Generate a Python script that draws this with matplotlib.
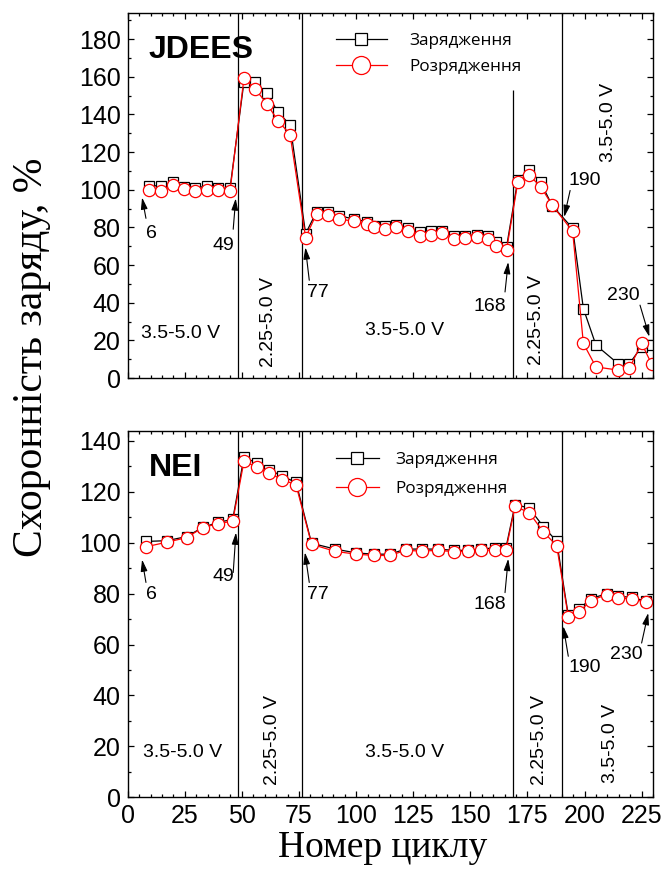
import matplotlib
matplotlib.use("Agg")
import matplotlib.pyplot as plt
from matplotlib.lines import Line2D
from matplotlib.ticker import MultipleLocator

# ---- data: JDEES (top) ----
top_cycle = [9.5, 14.7, 19.7, 24.6, 29.6, 34.6, 39.5, 44.8,
             50.9, 55.9, 60.9, 65.8, 71.1,
             77.9, 82.7, 87.7, 92.6, 99.1, 104.6, 107.8, 112.8, 117.5, 122.9,
             128.0, 132.9, 137.7, 142.9, 147.8, 152.8, 157.9, 161.2, 165.9,
             170.8, 175.8, 180.8, 185.9,
             194.8, 199.5, 205.0, 214.8, 219.6, 225.0, 229.4]
top_charge = [102.1, 102.1, 103.9, 101.7, 100.7, 102.1, 100.7, 100.7,
              157.2, 157.2, 151.2, 141.3, 134.4,
              76.7, 88.3, 88.3, 86.2, 84.4, 83.0, 80.9, 80.9, 81.2, 79.5,
              77.4, 78.3, 78.1, 75.6, 75.6, 75.9, 75.6, 72.1, 69.8,
              105.3, 110.6, 103.9, 91.5,
              79.5, 36.9, 17.5, 7.5, 7.5, 16.6, 17.5]
top_discharge = [99.6, 99.3, 102.3, 100.5, 99.3, 99.6, 99.6, 99.3,
                 159.1, 153.5, 145.6, 136.7, 129.3,
                 74.6, 87.3, 86.4, 84.3, 83.4, 81.6, 80.2, 79.3, 80.2, 78.1,
                 75.4, 76.2, 77.2, 74.0, 74.4, 74.9, 74.0, 70.1, 68.2,
                 104.0, 107.6, 101.7, 91.7,
                 77.9, 18.4, 5.9, 4.2, 5.1, 18.4, 7.4]

# ---- data: NEI (bottom) ----
bot_cycle = [8.0, 17.1, 25.8, 32.8, 39.7, 46.0,
             50.9, 56.5, 61.9, 67.7, 73.7,
             80.5, 90.8, 100.0, 107.8, 114.8, 121.7, 128.7, 135.7, 142.9,
             148.9, 154.6, 160.8, 165.6,
             169.6, 175.8, 182.0, 187.8,
             192.9, 197.7, 202.7, 209.7, 214.8, 220.9, 226.9]
bot_charge = [100.5, 100.8, 102.4, 106.0, 108.0, 109.2,
              133.6, 131.3, 128.7, 126.1, 123.7,
              99.8, 97.5, 96.0, 95.5, 95.5, 97.5, 97.5, 97.5, 97.0,
              97.0, 97.5, 98.0, 98.0,
              115.0, 113.6, 106.3, 100.6,
              71.5, 74.0, 78.0, 80.0, 79.0, 78.5, 77.0]
bot_discharge = [98.4, 100.2, 102.0, 105.9, 107.5, 108.5,
                 131.9, 129.8, 127.3, 124.8, 122.7,
                 99.4, 96.6, 95.5, 95.0, 95.0, 97.0, 96.7, 97.0, 96.5,
                 96.7, 97.0, 97.2, 97.1,
                 114.3, 111.8, 104.2, 98.9,
                 70.9, 72.8, 77.3, 79.6, 78.3, 77.9, 76.6]

boundaries = [48.4, 76.3, 168.5, 190.1]
top_bound_tops = [194, 194, 153, 194]
bot_bound_tops = [144, 144, 114, 144]

cycle_labels = ["6", "49", "77", "168", "190", "230"]
# (text x, text y, arrow tail x, tail y, head x, head y)
top_notes = [(10.2, 76.8, 8.0, 84.8, 6.3, 95.9),
             (41.7, 70.5, 46.2, 79.0, 47.3, 95.4),
             (83.3, 45.6, 79.5, 51.9, 77.8, 69.4),
             (158.7, 38.2, 165.2, 45.7, 166.6, 61.6),
             (200.2, 104.9, 193.7, 99.6, 191.1, 85.5),
             (216.9, 44.0, 224.3, 38.7, 228.4, 21.9)]
bot_notes = [(10.2, 79.6, 8.0, 84.4, 6.3, 93.4),
             (41.7, 86.7, 46.2, 88.3, 47.4, 104.0),
             (83.3, 79.6, 79.5, 84.4, 77.6, 96.2),
             (158.7, 75.7, 165.2, 80.4, 166.6, 93.7),
             (200.2, 50.9, 192.9, 55.4, 190.7, 67.2),
             (218.2, 56.0, 225.0, 60.6, 227.9, 72.4)]

volt_labels = ["3.5-5.0 V", "2.25-5.0 V", "3.5-5.0 V", "2.25-5.0 V", "3.5-5.0 V"]
volt_rot = [0, 90, 0, 90, 90]
top_volt_pos = [(23, 23.8), (61.5, 29.7), (121.4, 25.4), (179.2, 30.7), (210.3, 135.7)]
bot_volt_pos = [(24.2, 17.8), (63.6, 22.6), (121.4, 17.8), (180.5, 22.6), (211.2, 21.0)]

plt.rcParams['font.family'] = ['Liberation Sans', 'DejaVu Sans']

fig = plt.figure(figsize=(6.65, 8.88), dpi=100)
ax1 = fig.add_axes([0.192, 0.5743, 0.79, 0.4114])
ax2 = fig.add_axes([0.192, 0.1021, 0.79, 0.4129])


def draw_panel(ax, x, ch, dis, ylim, name, btops, notes, vpos,
               leg_anchor, hlen, hpad, lspace):
    ax.vlines(boundaries, 0, btops, color='black', lw=0.9)
    ax.plot(x, ch, color='black', lw=0.9, marker='s', ms=7.7,
            mfc='white', mec='black', mew=0.9)
    ax.plot(x, dis, color='red', lw=0.9, marker='o', ms=8.8,
            mfc='white', mec='red', mew=0.9)
    ax.set_xlim(0, 230)
    ax.set_ylim(*ylim)
    ax.xaxis.set_major_locator(MultipleLocator(25))
    ax.xaxis.set_minor_locator(MultipleLocator(5))
    ax.yaxis.set_major_locator(MultipleLocator(20))
    ax.yaxis.set_minor_locator(MultipleLocator(10))
    ax.tick_params(which='both', direction='in', top=True, right=True,
                   labelsize=18, pad=5, width=0.9)
    ax.tick_params(which='major', length=4.5)
    ax.tick_params(which='minor', length=2.5)
    for s in ax.spines.values():
        s.set_linewidth(1.0)

    ax.text(0.04, 0.94, name, transform=ax.transAxes, fontsize=23,
            fontweight='bold', va='top', ha='left')

    for lab, (tx, ty, x0, y0, x1, y1) in zip(cycle_labels, notes):
        ax.text(tx, ty, lab, fontsize=14, ha='center', va='center')
        ax.annotate('', xy=(x1, y1), xytext=(x0, y0),
                    arrowprops=dict(arrowstyle='-|>,head_length=0.7,head_width=0.2',
                                    color='black', lw=0.8,
                                    mutation_scale=10, shrinkA=0, shrinkB=0))

    for lab, rot, (vx, vy) in zip(volt_labels, volt_rot, vpos):
        ax.text(vx, vy, lab, fontsize=14, rotation=rot,
                ha='center', va='center')

    handles = [Line2D([], [], color='black', lw=0.9, marker='s', ms=9,
                      mfc='white', mec='black', mew=0.9),
               Line2D([], [], color='red', lw=0.9, marker='o', ms=13,
                      mfc='white', mec='red', mew=0.9)]
    ax.legend(handles, ["Зарядження", "Розрядження"], loc='upper left',
              bbox_to_anchor=leg_anchor, frameon=False, borderpad=0,
              handlelength=hlen, handletextpad=hpad, labelspacing=lspace,
              prop={'family': 'Open Sans', 'size': 12.3})


draw_panel(ax1, top_cycle, top_charge, top_discharge, (0, 194), "JDEES",
           top_bound_tops, top_notes, top_volt_pos, (0.38, 0.968), 3.0, 1.3, 0.6)
draw_panel(ax2, bot_cycle, bot_charge, bot_discharge, (0, 144), "NEI",
           bot_bound_tops, bot_notes, bot_volt_pos, (0.38, 0.966), 2.5, 1.0, 0.8)
ax1.tick_params(labelbottom=False)

fig.text(0.048, 0.598, "Схоронність заряду, %", rotation=90, fontsize=30,
         family='Liberation Serif', ha='center', va='center')
fig.text(0.576, 0.045, "Номер циклу", fontsize=27,
         family='Liberation Serif', ha='center', va='center')

fig.savefig("out.png", dpi=100)
